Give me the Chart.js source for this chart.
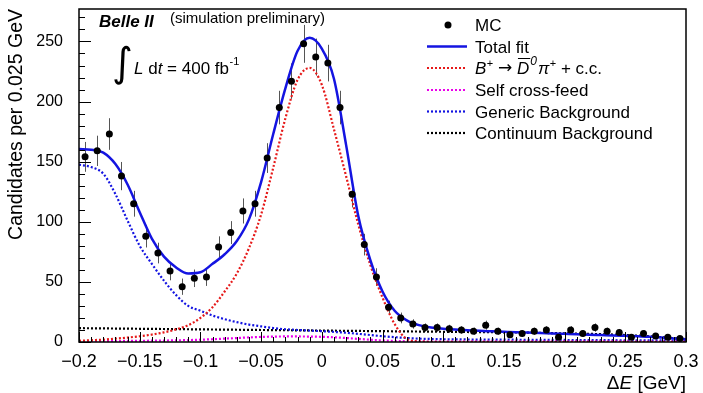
<!DOCTYPE html>
<html lang="en">
<head>
<meta charset="UTF-8">
<title>Delta E fit</title>
<style>
  body { margin: 0; background: #ffffff; }
  #chart { display: block; }
</style>
</head>
<body>
<canvas id="chart" width="703" height="393"></canvas>
<script src="https://cdn.jsdelivr.net/npm/chart.js"></script>
<script>
// MC histogram (bin centres, entries)
const binCenters = [
  -0.195, -0.185, -0.175, -0.165, -0.155, -0.145, -0.135, -0.125, -0.115, -0.105,
  -0.095, -0.085, -0.075, -0.065, -0.055, -0.045, -0.035, -0.025, -0.015, -0.005,
  0.005, 0.015, 0.025, 0.035, 0.045, 0.055, 0.065, 0.075, 0.085, 0.095,
  0.105, 0.115, 0.125, 0.135, 0.145, 0.155, 0.165, 0.175, 0.185, 0.195,
  0.205, 0.215, 0.225, 0.235, 0.245, 0.255, 0.265, 0.275, 0.285, 0.295
];
const mcCounts = [
  154, 159, 173, 138, 115, 88, 74, 59, 46, 53,
  54, 79, 91, 109, 115, 153, 195, 217, 248, 237,
  232, 195, 123, 81, 54, 29, 20, 15, 12, 12,
  11, 10, 9, 14, 9, 6, 7, 9, 10, 4,
  10, 7, 12, 9, 8, 4, 7, 5, 4, 3
];

const curveX = [
  -0.20, -0.19, -0.18, -0.17, -0.16, -0.15, -0.14, -0.13, -0.12, -0.11,
  -0.10, -0.09, -0.08, -0.07, -0.06, -0.05, -0.04, -0.03, -0.02, -0.01,
  0.00, 0.01, 0.02, 0.03, 0.04, 0.05, 0.06, 0.07, 0.08, 0.09,
  0.10, 0.11, 0.12, 0.13, 0.14, 0.15, 0.16, 0.17, 0.18, 0.19,
  0.20, 0.21, 0.22, 0.23, 0.24, 0.25, 0.26, 0.27, 0.28, 0.29, 0.30
];
const totalFit = [
  160.5, 160, 157.5, 148, 131, 108, 86, 71, 62, 57,
  58, 65, 73, 84, 102, 133, 173, 211, 242, 253,
  244, 219, 164, 105, 68, 42, 26, 18, 14, 12,
  11, 10.3, 9.8, 9.3, 8.9, 8.5, 8.1, 7.8, 7.5, 7.1,
  6.8, 6.5, 6.1, 5.8, 5.5, 5.1, 4.7, 4.3, 3.7, 3.0, 2.2
];
const signalFit = [
  1, 1.5, 2, 2.8, 3.7, 4.8, 6.2, 8, 10.5, 14,
  20, 29, 42, 57, 78, 106, 145, 186, 218, 228,
  214, 177, 138, 98, 64, 37, 15, 2.5, 0.5, 0.2,
  0.2, 0.2, 0.2, 0.2, 0.2, 0.2, 0.2, 0.2, 0.2, 0.2,
  0.2, 0.2, 0.2, 0.2, 0.2, 0.2, 0.2, 0.2, 0.2, 0.2, 0.2
];
const selfCrossFeed = [
  0.5, 0.6, 0.7, 0.8, 0.9, 1.0, 1.1, 1.2, 1.4, 1.6,
  1.9, 2.3, 2.8, 3.3, 3.8, 4.2, 4.5, 4.6, 4.6, 4.5,
  4.3, 3.9, 3.3, 2.6, 1.9, 1.3, 0.9, 0.6, 0.5, 0.4,
  0.4, 0.4, 0.4, 0.35, 0.35, 0.35, 0.3, 0.3, 0.3, 0.3,
  0.3, 0.3, 0.25, 0.25, 0.25, 0.25, 0.2, 0.2, 0.2, 0.2, 0.2
];
const genericBkg = [
  147.5, 145.5, 140, 123, 101, 80, 65, 51, 39, 30,
  26, 22, 19, 16.5, 14.5, 13, 11.6, 10.6, 10, 9.5,
  9, 8.4, 7.7, 6.8, 5.8, 4.8, 4, 3.3, 2.8, 2.5,
  2.3, 2.2, 2.1, 2.0, 2.0, 1.9, 1.9, 1.8, 1.8, 1.7,
  1.7, 1.6, 1.6, 1.5, 1.5, 1.4, 1.4, 1.3, 1.3, 1.2, 1.2
];
const continuumBkg = [
  11.5, 11.4, 11.3, 11.2, 11.1, 11, 10.9, 10.8, 10.7, 10.6,
  10.5, 10.4, 10.3, 10.2, 10.1, 10, 9.9, 9.8, 9.7, 9.6,
  9.5, 9.4, 9.3, 9.2, 9.1, 9.0, 8.9, 8.8, 8.7, 8.6,
  8.5, 8.4, 8.3, 8.2, 8.1, 8.0, 7.9, 7.8, 7.6, 7.4,
  7.2, 7.0, 6.8, 6.5, 6.2, 5.8, 5.3, 4.7, 4.0, 3.2, 2.4
];

const xTicks = [-0.2, -0.15, -0.1, -0.05, 0, 0.05, 0.1, 0.15, 0.2, 0.25, 0.3];
const xTickLabels = ['\u22120.2', '\u22120.15', '\u22120.1', '\u22120.05', '0', '0.05', '0.1', '0.15', '0.2', '0.25', '0.3'];
const yTicks = [0, 50, 100, 150, 200, 250];
const yTickLabels = ['0', '50', '100', '150', '200', '250'];

const legendLabels = ['MC', 'Total fit', 'B+ -> D0bar pi+ + c.c.', 'Self cross-feed', 'Generic Background', 'Continuum Background'];

const FAM = '"Liberation Sans", Arial, Helvetica, sans-serif';
const f = (size, style) => (style ? style + ' ' : '') + size + 'px ' + FAM;
const pts = (xs, ys) => xs.map((x, i) => ({ x: x, y: ys[i] }));

function put(ctx, text, x, y, font) {
  ctx.font = font;
  ctx.fillText(text, x, y);
  return x + ctx.measureText(text).width;
}

// vertical Poisson error bars on the MC points
const errorBars = {
  id: 'errorBars',
  beforeDatasetsDraw(chart) {
    const { ctx, scales: { x, y } } = chart;
    ctx.save();
    ctx.strokeStyle = '#555';
    ctx.lineWidth = 1;
    ctx.beginPath();
    binCenters.forEach((c, i) => {
      const n = mcCounts[i];
      const e = Math.sqrt(n);
      const px = Math.round(x.getPixelForValue(c)) + 0.5;
      ctx.moveTo(px, y.getPixelForValue(n + e));
      ctx.lineTo(px, y.getPixelForValue(Math.max(n - e, 0)));
    });
    ctx.stroke();
    ctx.restore();
  }
};

// ROOT-like frame, inner ticks, titles, labels and legend
const decor = {
  id: 'decor',
  afterDraw(chart) {
    const { ctx, chartArea: a, scales: { x, y } } = chart;
    ctx.save();
    ctx.strokeStyle = '#000';
    ctx.fillStyle = '#000';
    ctx.lineWidth = 1.5;
    ctx.strokeRect(a.left, a.top, a.right - a.left, a.bottom - a.top);

    ctx.lineWidth = 1;
    ctx.beginPath();
    for (let k = 0; k * 10 <= y.max; k++) {
      const py = Math.round(y.getPixelForValue(k * 10)) + 0.5;
      ctx.moveTo(a.left, py);
      ctx.lineTo(a.left + (k % 5 ? 6 : 12), py);
    }
    for (let k = 0; k <= 50; k++) {
      const px = Math.round(x.getPixelForValue(-0.2 + k * 0.01)) + 0.5;
      ctx.moveTo(px, a.bottom);
      ctx.lineTo(px, a.bottom - (k % 5 ? 5 : 10));
    }
    ctx.stroke();

    ctx.textBaseline = 'alphabetic';
    ctx.textAlign = 'left';

    // axis titles
    ctx.save();
    ctx.translate(17, 9);
    ctx.rotate(-Math.PI / 2);
    ctx.textAlign = 'right';
    ctx.textBaseline = 'middle';
    ctx.font = f(19.5);
    ctx.fillText('Candidates per 0.025 GeV', 0, 0);
    ctx.restore();

    ctx.font = f(19);
    const wD = ctx.measureText('\u0394').width;
    const wG = ctx.measureText(' [GeV]').width;
    ctx.font = f(19, 'italic');
    const wE = ctx.measureText('E').width;
    let tx = a.right - (wD + wE + wG);
    tx = put(ctx, '\u0394', tx, 389, f(19));
    tx = put(ctx, 'E', tx, 389, f(19, 'italic'));
    put(ctx, ' [GeV]', tx, 389, f(19));

    // experiment label
    put(ctx, 'Belle II', 99, 27, f(17, 'italic bold'));
    put(ctx, '(simulation preliminary)', 170, 23, f(15));

    // luminosity
    put(ctx, '\u222B', 112, 76, '40px "DejaVu Sans", sans-serif');
    tx = put(ctx, 'L', 134, 74, f(17, 'italic'));
    tx = put(ctx, ' d', tx, 74, f(17));
    tx = put(ctx, 't', tx, 74, f(17, 'italic'));
    tx = put(ctx, ' = 400 fb', tx, 74, f(17));
    put(ctx, '-1', tx + 0.5, 65, f(11));

    // legend
    const rowY = [25, 46.5, 68, 90, 111.5, 133];
    const lx0 = 427, lx1 = 467, textX = 475;
    chart.data.datasets.forEach((ds, i) => {
      const cy = rowY[i];
      if (i === 0) {
        ctx.beginPath();
        ctx.arc(448, cy, 3.5, 0, Math.PI * 2);
        ctx.fill();
      } else {
        ctx.save();
        ctx.strokeStyle = ds.borderColor;
        ctx.lineWidth = ds.borderWidth;
        ctx.setLineDash(ds.borderDash || []);
        ctx.beginPath();
        ctx.moveTo(lx0, cy);
        ctx.lineTo(lx1, cy);
        ctx.stroke();
        ctx.restore();
      }
      const base = cy + 6;
      if (i === 2) {
        let px = put(ctx, 'B', textX, base, f(17, 'italic'));
        px = put(ctx, '+', px + 0.5, base - 7, f(11));
        px = put(ctx, ' ', px, base, f(17));
        px = put(ctx, '\u2192', px, base - 1, '17px "DejaVu Sans", sans-serif');
        px = put(ctx, ' ', px, base, f(17));
        const dStart = px;
        px = put(ctx, 'D', px, base, f(17, 'italic'));
        ctx.lineWidth = 1;
        ctx.beginPath();
        ctx.moveTo(dStart + 1, base - 15.5);
        ctx.lineTo(px + 1, base - 15.5);
        ctx.stroke();
        px = put(ctx, '0', px + 1, base - 9, f(12, 'italic'));
        px = put(ctx, '\u03C0', px + 1, base, f(17, 'italic'));
        px = put(ctx, '+', px + 0.5, base - 7, f(11));
        put(ctx, ' + c.c.', px, base, f(17));
      } else {
        put(ctx, ds.label, textX, base, f(17));
      }
    });
    ctx.restore();
  }
};

const curve = (label, ys, color, width, dash) => ({
  type: 'line',
  label: label,
  data: pts(curveX, ys),
  borderColor: color,
  borderWidth: width,
  borderDash: dash,
  pointRadius: 0,
  fill: false,
  cubicInterpolationMode: 'monotone'
});

const chart = new Chart(document.getElementById('chart'), {
  type: 'scatter',
  data: {
    datasets: [
      {
        label: legendLabels[0],
        data: pts(binCenters, mcCounts),
        pointRadius: 3.5,
        pointBackgroundColor: '#000',
        pointBorderColor: '#000',
        pointBorderWidth: 0,
        showLine: false
      },
      curve(legendLabels[1], totalFit, 'rgb(20,20,225)', 2.5, []),
      curve(legendLabels[2], signalFit, 'rgb(230,25,25)', 2.2, [2, 2]),
      curve(legendLabels[3], selfCrossFeed, 'rgb(235,0,235)', 2.2, [2, 2]),
      curve(legendLabels[4], genericBkg, 'rgb(20,20,225)', 2.2, [2, 2]),
      curve(legendLabels[5], continuumBkg, '#000', 2.2, [2, 2])
    ]
  },
  options: {
    responsive: false,
    animation: false,
    events: [],
    layout: { padding: { top: 9, right: 17, left: 0, bottom: 0 } },
    plugins: {
      legend: { display: false },
      tooltip: { enabled: false }
    },
    scales: {
      x: {
        type: 'linear',
        min: -0.2,
        max: 0.3,
        grid: { display: false, drawTicks: false },
        border: { display: false },
        afterBuildTicks: s => { s.ticks = xTicks.map(v => ({ value: v })); },
        afterFit: s => { s.height = 51; s.paddingLeft = 0; s.paddingRight = 0; },
        ticks: {
          autoSkip: false,
          maxRotation: 0,
          padding: 9,
          color: '#000',
          font: { family: FAM, size: 18 },
          callback: (v, i) => xTickLabels[i]
        }
      },
      y: {
        type: 'linear',
        min: 0,
        max: 277,
        grid: { display: false, drawTicks: false },
        border: { display: false },
        afterBuildTicks: s => { s.ticks = yTicks.map(v => ({ value: v })); },
        afterFit: s => { s.width = 79; s.paddingTop = 0; s.paddingBottom = 0; },
        ticks: {
          padding: 16,
          color: '#000',
          font: { family: FAM, size: 16 },
          callback: (v, i) => yTickLabels[i]
        }
      }
    }
  },
  plugins: [errorBars, decor]
});
</script>
</body>
</html>
